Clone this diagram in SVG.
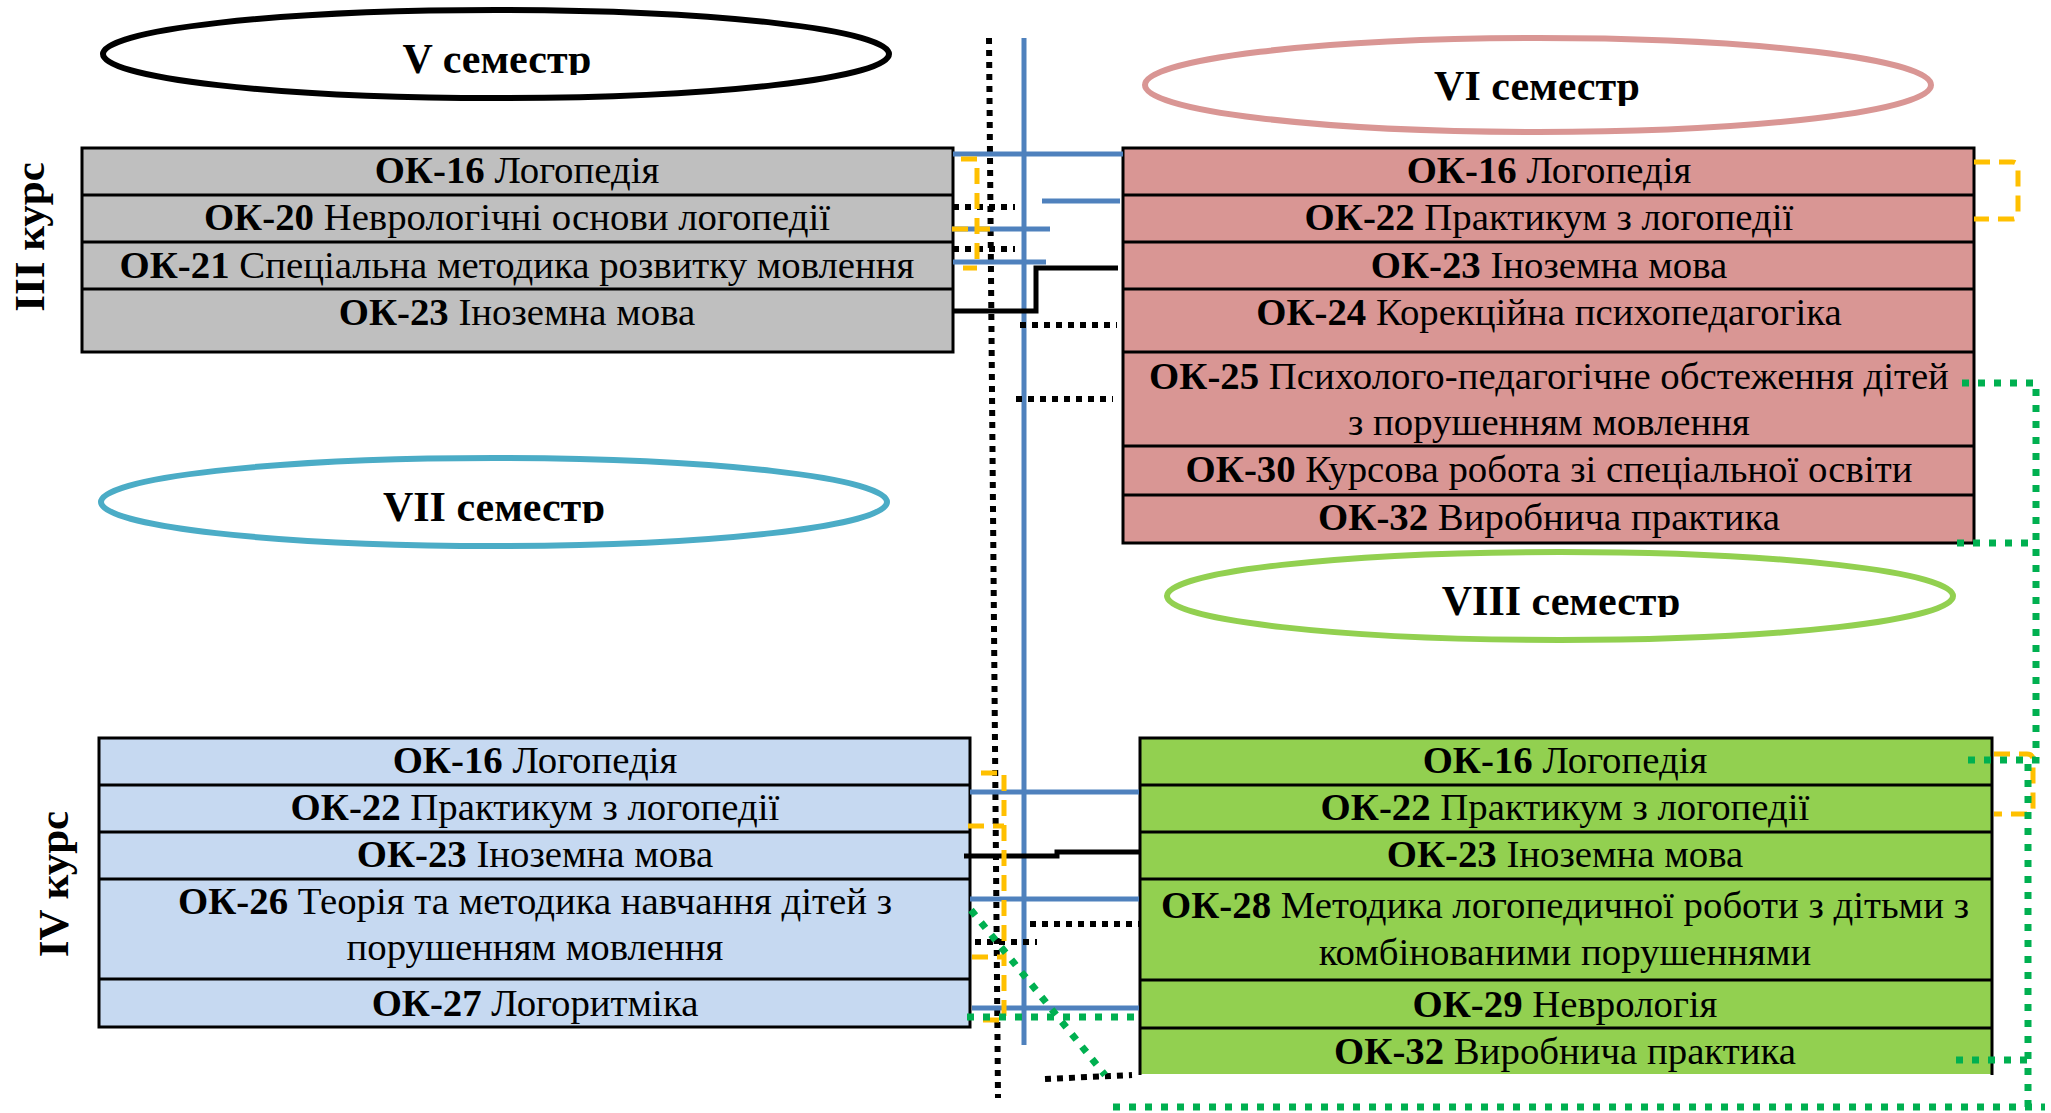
<svg xmlns="http://www.w3.org/2000/svg" width="2051" height="1113" viewBox="0 0 2051 1113">
<style>
text{font-family:"Liberation Serif","Times New Roman",serif;fill:#000}
.t{font-size:38.8px;text-anchor:middle}
.b{font-weight:bold}
.sem{font-size:42px;font-weight:bold;text-anchor:middle}
.kurs{font-size:43px;font-weight:bold;text-anchor:middle}
.box{stroke:#000;stroke-width:3}
.sep{stroke:#000;stroke-width:3;fill:none}
.ell{fill:#fff;stroke-width:6}
.blue{stroke:#4f81bd;stroke-width:5;fill:none}
.bdot{stroke:#000;stroke-width:6;stroke-dasharray:6 6;fill:none}
.bsol{stroke:#000;stroke-width:5;fill:none}
.orng{stroke:#ffc000;stroke-width:5;stroke-dasharray:16 9;fill:none}
.gdot{stroke:#00b050;stroke-width:7;stroke-dasharray:7 9;fill:none}
</style>
<defs>
<clipPath id="c5"><rect x="100" y="0" width="800" height="75"/></clipPath>
<clipPath id="c6"><rect x="1140" y="0" width="800" height="106"/></clipPath>
<clipPath id="c7"><rect x="100" y="450" width="800" height="73"/></clipPath>
<clipPath id="c8"><rect x="1160" y="540" width="800" height="77"/></clipPath>
</defs>
<rect width="2051" height="1113" fill="#fff"/>

<g id="sem5">
<ellipse class="ell" cx="496" cy="54" rx="393" ry="44" stroke="#000"/>
<text class="sem" x="497" y="73" clip-path="url(#c5)">V семестр</text>
</g>
<g id="sem6">
<ellipse class="ell" cx="1538" cy="85" rx="393" ry="47" stroke="#d99694"/>
<text class="sem" x="1537" y="100" clip-path="url(#c6)">VI семестр</text>
</g>
<g id="sem7">
<ellipse class="ell" cx="494" cy="502" rx="393" ry="44" stroke="#4bacc6"/>
<text class="sem" x="494" y="521" clip-path="url(#c7)">VII семестр</text>
</g>
<g id="sem8">
<ellipse class="ell" cx="1560" cy="596" rx="393" ry="44" stroke="#92d050"/>
<text class="sem" x="1561" y="615" clip-path="url(#c8)">VIII семестр</text>
</g>

<g id="kurs3"><text class="kurs" transform="translate(44,237) rotate(-90)">III курс</text></g>
<g id="kurs4"><text class="kurs" transform="translate(68,884) rotate(-90)">IV курс</text></g>

<g id="box5">
<rect class="box" x="82" y="148" width="871" height="204" fill="#bfbfbf"/>
<path class="sep" d="M82,195H953M82,242H953M82,289H953"/>
<text class="t" x="517" y="183"><tspan class="b">ОК-16</tspan> Логопедія</text>
<text class="t" x="517" y="230"><tspan class="b">ОК-20</tspan> Неврологічні основи логопедії</text>
<text class="t" x="517" y="278"><tspan class="b">ОК-21</tspan> Спеціальна методика розвитку мовлення</text>
<text class="t" x="517" y="325"><tspan class="b">ОК-23</tspan> Іноземна мова</text>
</g>

<g id="box6">
<rect class="box" x="1123" y="148" width="851" height="395" fill="#d99694"/>
<path class="sep" d="M1123,195H1974M1123,242H1974M1123,289H1974M1123,352H1974M1123,446H1974M1123,495H1974"/>
<text class="t" x="1549" y="183"><tspan class="b">ОК-16</tspan> Логопедія</text>
<text class="t" x="1549" y="230"><tspan class="b">ОК-22</tspan> Практикум з логопедії</text>
<text class="t" x="1549" y="278"><tspan class="b">ОК-23</tspan> Іноземна мова</text>
<text class="t" x="1549" y="325"><tspan class="b">ОК-24</tspan> Корекційна психопедагогіка</text>
<text class="t" x="1549" y="389"><tspan class="b">ОК-25</tspan> Психолого-педагогічне обстеження дітей</text>
<text class="t" x="1549" y="435">з порушенням мовлення</text>
<text class="t" x="1549" y="482"><tspan class="b">ОК-30</tspan> Курсова робота зі спеціальної освіти</text>
<text class="t" x="1549" y="530"><tspan class="b">ОК-32</tspan> Виробнича практика</text>
</g>

<g id="box7">
<rect class="box" x="99" y="738" width="871" height="289" fill="#c6d9f1"/>
<path class="sep" d="M99,785H970M99,832H970M99,879H970M99,979H970"/>
<text class="t" x="535" y="773"><tspan class="b">ОК-16</tspan> Логопедія</text>
<text class="t" x="535" y="820"><tspan class="b">ОК-22</tspan> Практикум з логопедії</text>
<text class="t" x="535" y="867"><tspan class="b">ОК-23</tspan> Іноземна мова</text>
<text class="t" x="535" y="914"><tspan class="b">ОК-26</tspan> Теорія та методика навчання дітей з</text>
<text class="t" x="535" y="960">порушенням мовлення</text>
<text class="t" x="535" y="1016"><tspan class="b">ОК-27</tspan> Логоритміка</text>
</g>

<g id="box8">
<rect x="1140" y="738" width="852" height="336" fill="#92d050"/>
<path class="sep" d="M1140,1075V738H1992V1075"/>
<path class="sep" d="M1140,785H1992M1140,832H1992M1140,879H1992M1140,980H1992M1140,1028H1992"/>
<text class="t" x="1565" y="773"><tspan class="b">ОК-16</tspan> Логопедія</text>
<text class="t" x="1565" y="820"><tspan class="b">ОК-22</tspan> Практикум з логопедії</text>
<text class="t" x="1565" y="867"><tspan class="b">ОК-23</tspan> Іноземна мова</text>
<text class="t" x="1565" y="918"><tspan class="b">ОК-28</tspan> Методика логопедичної роботи з дітьми з</text>
<text class="t" x="1565" y="965">комбінованими порушеннями</text>
<text class="t" x="1565" y="1017"><tspan class="b">ОК-29</tspan> Неврологія</text>
<text class="t" x="1565" y="1064"><tspan class="b">ОК-32</tspan> Виробнича практика</text>
</g>

<g id="connectors">
<path class="bdot" d="M989,38L998,1098"/>
<path class="blue" d="M1024,38V1045"/>
<path class="blue" d="M953,154H1123M1042,201H1120M952,229H1050M953,262H1046"/>
<path class="blue" d="M970,792H1139M970,899H1139M972,1008H1139"/>
<path class="bdot" d="M953,207H1015M953,249H1015M1020,325H1117M1016,399H1113"/>
<path class="bdot" d="M1030,924H1140M975,942H1037M1045,1079L1132,1075"/>
<path class="bsol" d="M953,311H1036V268H1118"/>
<path class="bsol" d="M964,856H1057V852H1140"/>
<path class="orng" d="M961,159H977V268H963M952,229H990"/>
<path class="orng" d="M1974,162H2012Q2018,162 2018,168V213Q2018,219 2012,219H1974"/>
<path class="orng" d="M981,773H1004V1020H982M968,826H1004M972,957H1004"/>
<path class="orng" d="M1994,754H2027Q2033,754 2033,760V808Q2033,814 2027,814H1994"/>
<path class="gdot" d="M1962,383H2036V760H1963"/>
<path class="gdot" d="M1957,543H2036"/>
<path class="gdot" d="M1956,1060H2028M2028,764V1107M1113,1107H2045"/>
<path class="gdot" d="M967,1017H1139"/>
<path class="gdot" d="M971,910L1105,1075"/>
</g>
</svg>
